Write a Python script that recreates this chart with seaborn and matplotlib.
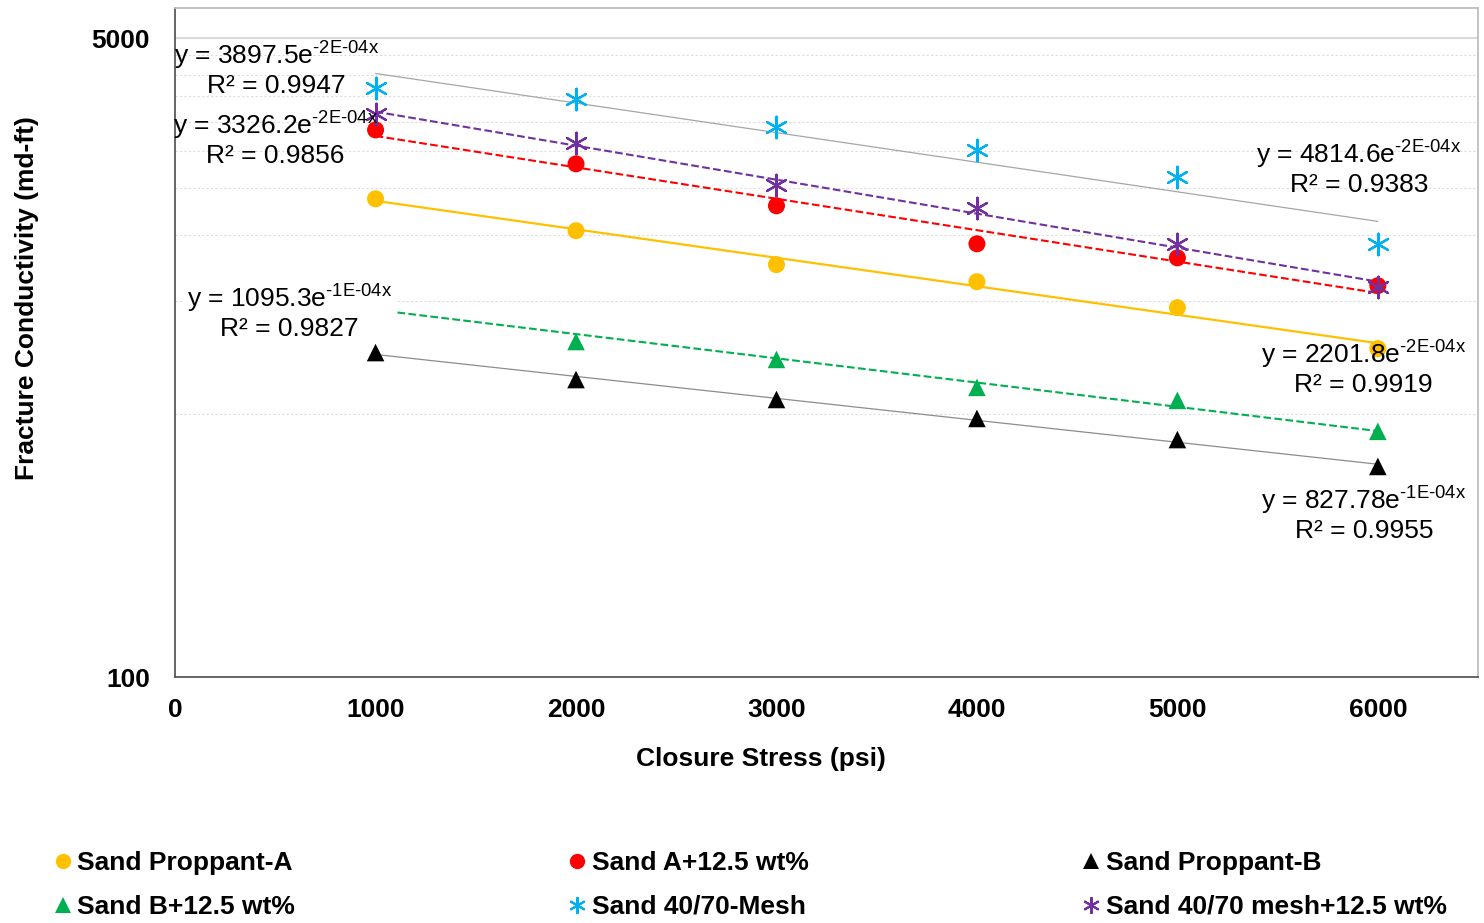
import numpy as np
import matplotlib
matplotlib.use('Agg')
import matplotlib.pyplot as plt
import seaborn as sns
import pandas as pd
from matplotlib.ticker import FixedLocator, NullFormatter
from matplotlib.lines import Line2D

# closure stress (psi) and conductivity (md-ft)
stress = [1000, 2000, 3000, 4000, 5000, 6000]
sand_a = [1869, 1537, 1249, 1125, 960, 747]
sand_a_125 = [2850, 2315, 1791, 1419, 1302, 1098]
sand_b = [729, 618, 547, 487, 428, 363]
sand_b_125 = [990, 780, 699, 589, 544, 450]
sand_4070 = [3683, 3444, 2901, 2521, 2138, 1419]
sand_4070_125 = [3142, 2632, 2036, 1769, 1419, 1091]

names = ['Sand Proppant-A', 'Sand A+12.5 wt%', 'Sand Proppant-B',
         'Sand B+12.5 wt%', 'Sand 40/70-Mesh', 'Sand 40/70 mesh+12.5 wt%']
values = [sand_a, sand_a_125, sand_b, sand_b_125, sand_4070, sand_4070_125]
colors = ['#FFC000', '#FF0000', '#000000', '#00B050', '#00B0F0', '#7030A0']
markers = ['o', 'o', '^', '^', (6, 2, 0), (6, 2, 0)]
sizes = [150, 150, 160, 160, 240, 240]
trend_col = ['#FFC000', '#FF0000', '#8C8C8C', '#00B050', '#A6A6A6', '#7030A0']
trend_ls = ['-', '--', '-', '--', '-', '--']
trend_lw = [1.6, 1.5, 0.9, 1.5, 0.9, 1.5]

# trendline equation labels as printed on the chart
eq_text = [r'y = 2201.8e$^{\text{-2E-04x}}$' + '\nR² = 0.9919',
           r'y = 3326.2e$^{\text{-2E-04x}}$' + '\nR² = 0.9856',
           r'y = 827.78e$^{\text{-1E-04x}}$' + '\nR² = 0.9955',
           r'y = 1095.3e$^{\text{-1E-04x}}$' + '\nR² = 0.9827',
           r'y = 4814.6e$^{\text{-2E-04x}}$' + '\nR² = 0.9383',
           r'y = 3897.5e$^{\text{-2E-04x}}$' + '\nR² = 0.9947']
eq_pos = [(5930, 665), (500, 2700), (5930, 271), (570, 937), (5905, 2260), (505, 4140)]

sns.set_style('white')
plt.rcParams['font.family'] = ['Liberation Sans', 'DejaVu Sans']
plt.rcParams['mathtext.fontset'] = 'custom'
plt.rcParams['mathtext.rm'] = 'Liberation Sans'
plt.rcParams['mathtext.default'] = 'regular'
plt.rcParams['text.color'] = 'black'
plt.rcParams['xtick.color'] = 'black'
plt.rcParams['ytick.color'] = 'black'
plt.rcParams['axes.labelcolor'] = 'black'

fig = plt.figure(figsize=(14.84, 9.23), dpi=100)
ax = fig.add_axes([0.118, 0.2665, 0.878, 0.7245])

for i in range(6):
    df = pd.DataFrame({'x': stress, 'y': values[i]})
    # exponential trendline fitted like Excel
    k, b = np.polyfit(df.x, np.log(df.y), 1)
    xs = np.array([stress[0], stress[-1]])
    ax.plot(xs, np.exp(b + k * xs), color=trend_col[i], ls=trend_ls[i],
            lw=trend_lw[i], zorder=2)
    if markers[i] == (6, 2, 0):
        sns.scatterplot(data=df, x='x', y='y', ax=ax, marker=markers[i], s=sizes[i],
                        color=colors[i], linewidth=1.6, zorder=3)
    else:
        sns.scatterplot(data=df, x='x', y='y', ax=ax, marker=markers[i], s=sizes[i],
                        color=colors[i], edgecolor='none', zorder=3)

for i in range(6):
    kw = {}
    if i == 3:
        kw['bbox'] = dict(facecolor='white', edgecolor='none', pad=2)
    ax.text(eq_pos[i][0], eq_pos[i][1], eq_text[i], ha='center', va='center',
            multialignment='center', fontsize=19, linespacing=1.12, zorder=5, **kw)

ax.set_yscale('log')
ax.set_xlim(0, 6500)
ax.set_ylim(100, 6000)
ax.xaxis.set_major_locator(FixedLocator([0, 1000, 2000, 3000, 4000, 5000, 6000]))
ax.set_xticklabels(['0', '1000', '2000', '3000', '4000', '5000', '6000'])
ax.yaxis.set_major_locator(FixedLocator([100, 5000]))
ax.set_yticklabels(['100', '5000'])
ax.yaxis.set_minor_locator(FixedLocator(list(range(500, 5000, 500))))
ax.yaxis.set_minor_formatter(NullFormatter())
ax.tick_params(axis='both', which='both', length=0, labelsize=19, labelcolor='black')
ax.tick_params(axis='x', pad=15)
ax.tick_params(axis='y', pad=18)
for lab in ax.get_xticklabels() + ax.get_yticklabels():
    lab.set_fontweight('bold')

ax.grid(False)
ax.yaxis.grid(True, which='minor', color='#DDDDDD', ls=(0, (2, 2)), lw=0.8)
ax.axhline(5000, color='#D9D9D9', lw=1.5, zorder=1)

for s in ['left', 'bottom']:
    ax.spines[s].set_color('#595959')
    ax.spines[s].set_linewidth(1.3)
for s in ['top', 'right']:
    ax.spines[s].set_color('#BFBFBF')
    ax.spines[s].set_linewidth(1.3)

ax.set_xlabel('')
ax.set_ylabel('')
fig.text(761 / 1484, 1 - 759 / 923, 'Closure Stress (psi)', ha='center', va='center',
         fontsize=19, fontweight='bold')
fig.text(0.018, 0.677, 'Fracture Conductivity (md-ft)', rotation=90, ha='center',
         va='center', fontsize=19, fontweight='bold')

handles = [Line2D([], [], ls='none', marker=markers[i], color=colors[i],
                  markersize=11 if i < 4 else 12, markeredgewidth=1.5 if i >= 4 else 0)
           for i in range(6)]
order = [0, 3, 1, 4, 2, 5]
fig.legend([handles[i] for i in order], [names[i] for i in order], ncol=3,
           loc='upper left', bbox_to_anchor=(0.028, 0.089), frameon=False,
           prop={'weight': 'bold', 'size': 19}, handlelength=0.8, handletextpad=0.15,
           columnspacing=10.3, labelspacing=0.74, borderaxespad=0)

fig.savefig('out.png', dpi=100)
